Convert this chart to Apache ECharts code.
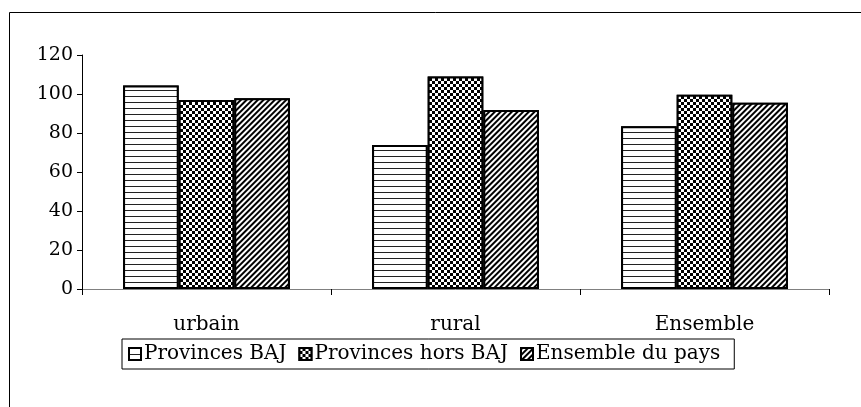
<!DOCTYPE html>
<html>
<head>
<meta charset="utf-8">
<script src="https://cdn.jsdelivr.net/npm/echarts@6/dist/echarts.min.js"></script>
<style>
  html, body { margin: 0; padding: 0; background: #fff; }
  #chart { width: 861px; height: 407px; }
</style>
</head>
<body>
<div id="chart"></div>
<script>
const categories = ['urbain', 'rural', 'Ensemble']
const seriesNames = ['Provinces BAJ', 'Provinces hors BAJ', 'Ensemble du pays']
const bajValues = [104.4, 73.9, 83.4]
const horsBajValues = [96.9, 109.0, 99.6]
const paysValues = [97.8, 91.8, 95.5]
const yTicks = { min: 0, max: 120, interval: 20 }

const FONT = '"DejaVu Serif", "Liberation Serif", serif'

// motifs noir/blanc facon Excel
const decals = [
  { symbol: 'rect', color: '#222', backgroundColor: '#fff', dashArrayX: [1, 0], dashArrayY: [1, 5], symbolSize: 1 },
  { symbol: 'rect', color: '#000', backgroundColor: '#fff', dashArrayX: [[3, 3], [0, 3, 3, 0]], dashArrayY: [3, 0], symbolSize: 1 },
  { symbol: 'rect', color: '#000', backgroundColor: '#fff', dashArrayX: [1, 0], dashArrayY: [2, 2], rotation: -Math.PI / 4, symbolSize: 1 }
]

const allValues = [bajValues, horsBajValues, paysValues]

const chart = echarts.init(document.getElementById('chart'), null, { renderer: 'canvas' })

const option = {
  backgroundColor: '#fff',
  animation: false,
  grid: { left: 82, right: 32, top: 55, bottom: 118 },
  graphic: [{
    type: 'rect',
    shape: { x: 9.5, y: 12.5, width: 900, height: 450 },
    style: { fill: 'none', stroke: '#000', lineWidth: 1 },
    silent: true,
    z: -1
  }],
  legend: {
    left: 122,
    top: 339,
    padding: [4, 14, 4, 6],
    borderColor: '#000',
    borderWidth: 1,
    itemWidth: 12,
    itemHeight: 12,
    itemGap: 12,
    icon: 'rect',
    textStyle: { fontFamily: FONT, fontSize: 20, color: '#000', lineHeight: 22, padding: [0, 0, 0, -2] },
    data: seriesNames
  },
  xAxis: {
    type: 'category',
    data: categories,
    axisLine: { lineStyle: { color: '#808080', width: 1 } },
    axisTick: { show: true, length: 6, lineStyle: { color: '#000' } },
    axisLabel: { fontFamily: FONT, fontSize: 20, color: '#000', margin: 26 }
  },
  yAxis: {
    type: 'value',
    min: yTicks.min,
    max: yTicks.max,
    interval: yTicks.interval,
    axisLine: { show: true, lineStyle: { color: '#000', width: 1 } },
    axisTick: { show: true, length: 5, lineStyle: { color: '#000' } },
    splitLine: { show: false },
    axisLabel: { fontFamily: FONT, fontSize: 19, color: '#000', margin: 9 }
  },
  series: seriesNames.map((name, i) => ({
    name: name,
    type: 'bar',
    data: allValues[i],
    barGap: '0%',
    barCategoryGap: '33%',
    itemStyle: {
      color: '#fff',
      borderColor: '#000',
      borderWidth: 2,
      decal: decals[i]
    }
  }))
}

chart.setOption(option)
</script>
</body>
</html>
